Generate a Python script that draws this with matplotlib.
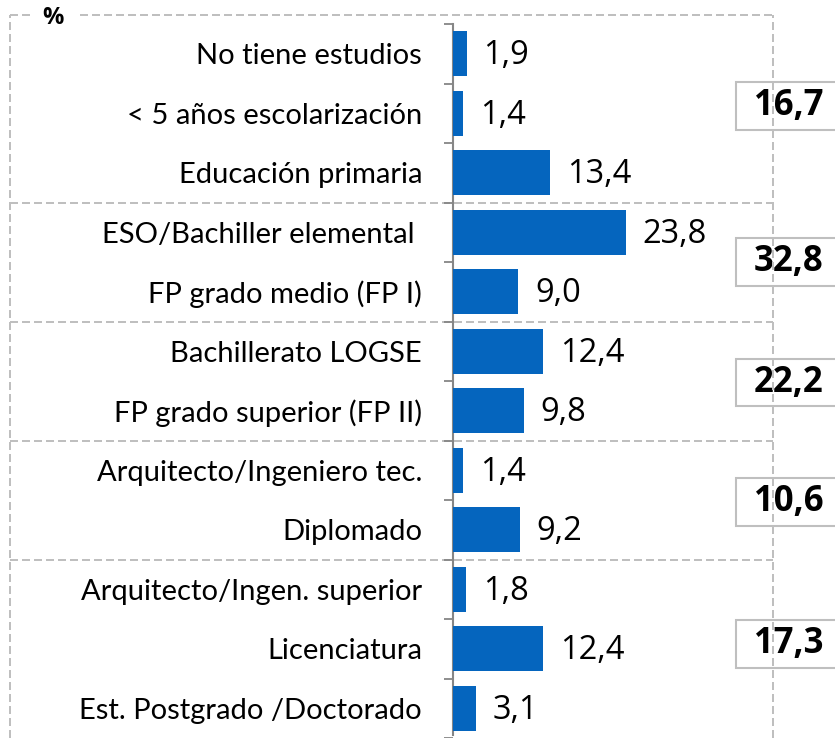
import matplotlib
matplotlib.use("Agg")
import matplotlib.pyplot as plt
from matplotlib.patches import Rectangle
from matplotlib.transforms import blended_transform_factory
import numpy as np

categories = [
    "No tiene estudios",
    "< 5 años escolarización",
    "Educación primaria",
    "ESO/Bachiller elemental ",
    "FP grado medio (FP I)",
    "Bachillerato LOGSE",
    "FP grado superior (FP II)",
    "Arquitecto/Ingeniero tec.",
    "Diplomado",
    "Arquitecto/Ingen. superior",
    "Licenciatura",
    "Est. Postgrado /Doctorado",
]
values = [1.9, 1.4, 13.4, 23.8, 9.0, 12.4, 9.8, 1.4, 9.2, 1.8, 12.4, 3.1]
group_sizes = [3, 2, 2, 2, 3]
group_totals = [16.7, 32.8, 22.2, 10.6, 17.3]
unit_label = "%"

LABEL_FONT = ["Lato", "DejaVu Sans"]
NUM_FONT = ["Open Sans", "DejaVu Sans"]
BAR_COLOR = "#0565BE"
GRID_GRAY = "#BFBFBF"
AXIS_GRAY = "#868686"

W, H = 835, 738
fig = plt.figure(figsize=(W / 100, H / 100), dpi=100)

# layout in pixels
ax_left_px, ax_right_px = 453, 773
top_px = 15
row0_px, row_step_px = 54, 59.75
px_per_unit = 7.26
box_offsets_px = [-7, 0, 1.5, 2, -5]  # small vertical nudges of total boxes

ax = fig.add_axes([ax_left_px / W, 0, (ax_right_px - ax_left_px) / W, (H - top_px) / H])
ax.set_xlim(0, (ax_right_px - ax_left_px) / px_per_unit)
ax.set_ylim((H - row0_px) / row_step_px, (top_px - row0_px) / row_step_px)

y = np.arange(len(categories))
ax.barh(y, values, height=0.753, color=BAR_COLOR, zorder=3)

def fmt(v):
    return f"{v:.1f}".replace(".", ",")

for yi, v in zip(y, values):
    ax.annotate(fmt(v), xy=(v, yi), xytext=(12.0, -1.5), textcoords="offset points",
                ha="left", va="center", fontsize=23.5, family=NUM_FONT, color="black")

for s in ["top", "right", "bottom"]:
    ax.spines[s].set_visible(False)
ax.spines["left"].set_color(AXIS_GRAY)
ax.spines["left"].set_linewidth(1.5)
ax.spines["left"].set_bounds(-0.5, ax.get_ylim()[0])
ax.set_xticks([])
ax.set_yticks(y, labels=categories)
ax.tick_params(axis="y", which="major", length=0, pad=22.3, labelsize=21)
for lab in ax.get_yticklabels():
    lab.set_family(LABEL_FONT)
ax.set_yticks(np.arange(-0.5, len(categories), 1.0), minor=True)
ax.tick_params(axis="y", which="minor", length=6.5, width=1.3, color=AXIS_GRAY, direction="out")

# frame and separators
ls = (0, (4, 2))
lw = 1.44
frame_left_frac = (10 - ax_left_px) / (ax_right_px - ax_left_px)
ytr = ax.get_yaxis_transform()
bounds = np.cumsum(group_sizes)[:-1] - 0.5
for b in bounds:
    ax.plot([frame_left_frac, 1.0], [b, b], transform=ytr, clip_on=False,
            color=GRID_GRAY, lw=lw, ls=ls, zorder=1)
# top frame (gap for % label)
ftr = fig.transFigure
ytop = 1 - top_px / H
fig.add_artist(plt.Line2D([10 / W, 30 / W], [ytop, ytop], transform=ftr, color=GRID_GRAY, lw=lw, ls=ls))
fig.add_artist(plt.Line2D([80 / W, ax_right_px / W], [ytop, ytop], transform=ftr, color=GRID_GRAY, lw=lw, ls=ls))
fig.add_artist(plt.Line2D([10 / W, 10 / W], [0, ytop], transform=ftr, color=GRID_GRAY, lw=lw, ls=ls))
fig.add_artist(plt.Line2D([ax_right_px / W, ax_right_px / W], [0, ytop], transform=ftr, color=GRID_GRAY, lw=lw, ls=ls))

fig.text(53 / W, 1 - 18 / H, unit_label, ha="center", va="center", fontsize=17,
         fontweight="bold", family=NUM_FONT)

# group totals boxes
btr = blended_transform_factory(fig.transFigure, ax.transData)
starts = np.concatenate([[0], np.cumsum(group_sizes)[:-1]])
box_h = 48 / row_step_px
for st, n, tot, off in zip(starts, group_sizes, group_totals, box_offsets_px):
    cy = st + (n - 1) / 2 + off / row_step_px
    ax.add_patch(Rectangle((736 / W, cy - box_h / 2), 120 / W, box_h, transform=btr,
                           facecolor="white", edgecolor=GRID_GRAY, lw=1.5, clip_on=False, zorder=5))
    ax.text(754 / W, cy, fmt(tot), transform=btr, ha="left", va="center", fontsize=25,
            fontweight="bold", family=NUM_FONT, zorder=6, clip_on=False)

fig.savefig("out.png", dpi=100)
